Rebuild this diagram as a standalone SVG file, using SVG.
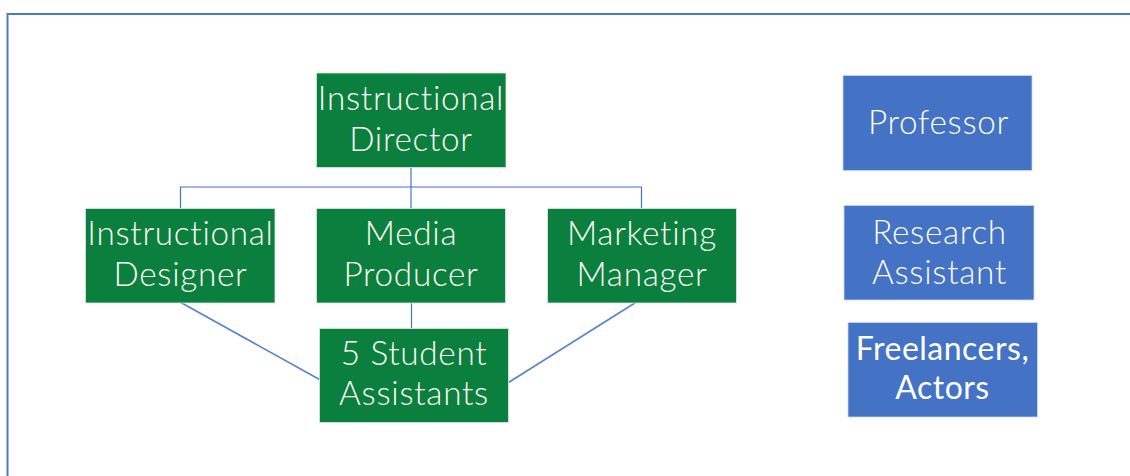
<svg xmlns="http://www.w3.org/2000/svg" width="1130" height="476" viewBox="0 0 1130 476">
<style>
.g{fill:#0b7f3e;stroke:#d9ebdf;stroke-width:0.8}
.b{fill:#4472c4;stroke:#c9d6ee;stroke-width:0.8}
.t{font-family:Lato,"Open Sans","Liberation Sans",sans-serif;font-size:33.3px;font-weight:300;letter-spacing:0.7px;font-variant-ligatures:none;fill:#fdfdf3;text-anchor:middle}
.tb{font-size:32px;font-weight:400;letter-spacing:0.5px;fill:#ffffff}
.c{fill:none;stroke:#4472c4;stroke-width:1.2}
.d{fill:none;stroke:#5a82cc;stroke-width:1.6}
</style>
<rect width="1130" height="476" fill="#ffffff"/>
<path d="M7.5 476 V14 H1130" fill="none" stroke="#4a7ebb" stroke-width="2"/>
<g id="connectors">
<line class="c" x1="411" y1="167.5" x2="411" y2="208.5"/>
<polyline class="c" points="180.5,208.5 180.5,187 641.5,187 641.5,208.5"/>
<line class="c" x1="411.5" y1="302.5" x2="411.5" y2="328.5"/>
<line class="d" x1="180" y1="302" x2="319.5" y2="379.5"/>
<line class="d" x1="642" y1="298.5" x2="508.5" y2="382.5"/>
</g>
<g id="director">
<rect class="g" x="316.5" y="73" width="189.5" height="94.5"/>
<text class="t" x="411" y="109.5">Instructional</text>
<text class="t" x="411" y="151">Director</text>
</g>
<g id="instructional-designer">
<rect class="g" x="85.5" y="208.5" width="189.5" height="94.5"/>
<text class="t" x="180.5" y="245">Instructional</text>
<text class="t" x="180.5" y="285.5">Designer</text>
</g>
<g id="media-producer">
<rect class="g" x="316.5" y="208.5" width="189" height="94.5"/>
<text class="t" x="411" y="245">Media</text>
<text class="t" x="411" y="285.5">Producer</text>
</g>
<g id="marketing-manager">
<rect class="g" x="547.5" y="208.5" width="189" height="94.5"/>
<text class="t" x="642" y="245">Marketing</text>
<text class="t" x="642" y="285.5">Manager</text>
</g>
<g id="student-assistants">
<rect class="g" x="319.5" y="328.5" width="189" height="94"/>
<text class="t" x="414" y="365">5 Student</text>
<text class="t" x="414" y="405">Assistants</text>
</g>
<g id="professor">
<rect class="b" x="843" y="75.5" width="189" height="95"/>
<text class="t" x="938.5" y="134">Professor</text>
</g>
<g id="research-assistant">
<rect class="b" x="844" y="205.5" width="190" height="94.5"/>
<text class="t" x="939.5" y="243.5">Research</text>
<text class="t" x="939.5" y="283.5">Assistant</text>
</g>
<g id="freelancers">
<rect class="b" x="848" y="322.5" width="189.5" height="94.5"/>
<text class="t tb" x="942.5" y="360">Freelancers,</text>
<text class="t tb" x="942.5" y="398.5">Actors</text>
</g>
</svg>
